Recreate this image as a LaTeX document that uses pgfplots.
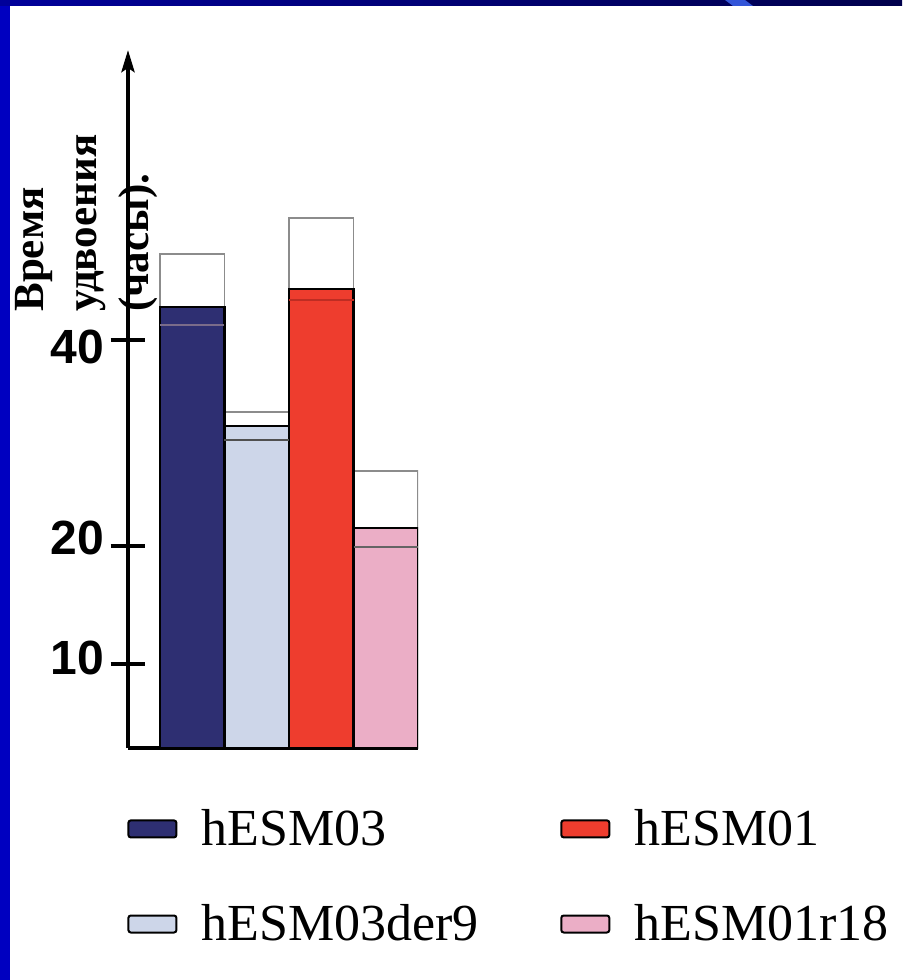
\documentclass[border=0pt]{standalone}
\usepackage{fontspec}
\setmainfont{Liberation Serif}
\newfontfamily\sansfam{Liberation Sans}
\usepackage{pgfplots}
\pgfplotsset{compat=1.18}
\usetikzlibrary{arrows.meta}
\definecolor{frameblue}{HTML}{0000C0}
\definecolor{topA}{HTML}{00009A}
\definecolor{topB}{HTML}{00004C}
\definecolor{stripe}{HTML}{3355D8}
\definecolor{cnavy}{HTML}{2E2F72}
\definecolor{clav}{HTML}{CDD6E9}
\definecolor{cred}{HTML}{EE3D2E}
\definecolor{cpink}{HTML}{EBAEC6}
\definecolor{errgray}{HTML}{8C8C8C}
\definecolor{lnavy}{HTML}{7A6C8A}
\definecolor{llav}{HTML}{505050}
\definecolor{lred}{HTML}{BE2D23}
\definecolor{lpink}{HTML}{646464}
\begin{document}
\begin{tikzpicture}[x=1pt,y=1pt]
\useasboundingbox (0,0) rectangle (451,490);
\fill[white] (0,0) rectangle (451,490);
\fill[frameblue] (0,0) rectangle (5,490);
\shade[left color=topA, right color=topB] (0,487) rectangle (451,490);
\fill[stripe] (362.5,490) -- (372.5,490) -- (376.5,487) -- (366.5,487) -- cycle;
\begin{axis}[
  at={(64pt,116pt)}, anchor=south west,
  scale only axis, width=145pt, height=349pt,
  xmin=-0.996, xmax=3.5, ymin=0, ymax=68.16,
  y coord trafo/.code={\pgfmathparse{8.4*min(#1,10)+11.8*max(0,min(#1,20)-10)+10.3*max(0,#1-20)}},
  y coord inv trafo/.code={\pgfmathparse{min(#1,84)/8.4+max(0,min(#1,202)-84)/11.8+max(0,#1-202)/10.3}},
  axis x line=bottom, axis y line=left,
  x axis line style={-, line width=2pt, black},
  y axis line style={-{Stealth[length=11pt,width=6.5pt,inset=2pt]}, line width=2pt, black},
  xtick=\empty, ytick={10,20,40},
  yticklabels={\raisebox{3.5pt}[17pt][0pt]{10},\raisebox{4.5pt}[17pt][0pt]{20},\raisebox{-3pt}[17pt][0pt]{40}},
  tick align=center, major tick length=17.5pt,
  major tick style={line width=1.8pt, black},
  yticklabel style={font=\sansfam\bfseries\fontsize{24}{24}\selectfont, anchor=east, inner sep=0pt, xshift=-3pt},
  ybar, bar width=1, bar shift=0pt,
  legend columns=2,
  legend image code/.code={\draw[#1,/tikz/.cd, draw=black, line width=1pt, rounded corners=1.2pt] (0pt,-4.25pt) rectangle (24pt,4.25pt);},
  legend style={at={(axis description cs:-0.0034,-0.0845)}, anchor=north west, draw=none, fill=none, inner sep=0pt,
    font=\fontsize{26}{26}\selectfont, row sep=26pt,
    nodes={inner sep=1pt},
    /tikz/every odd column/.append style={column sep=11pt},
    /tikz/every even column/.append style={column sep=39.8pt},
    cells={anchor=west}},
]
% upper error boxes
\addplot[forget plot, fill=white, draw=errgray, line width=0.8pt] coordinates {(0,48.35)};
\addplot[forget plot, fill=white, draw=errgray, line width=0.8pt] coordinates {(1,33.01)};
\addplot[forget plot, fill=white, draw=errgray, line width=0.8pt] coordinates {(2,51.84)};
\addplot[forget plot, fill=white, draw=errgray, line width=0.8pt] coordinates {(3,27.28)};
% bars
\addplot[fill=cnavy, draw=black, line width=1.1pt] coordinates {(0,43.20)};
\addlegendentry{hESM03}
\addplot[fill=cred, draw=black, line width=1.1pt] coordinates {(2,44.95)};
\addlegendentry{hESM01}
\addplot[fill=clav, draw=black, line width=1.1pt] coordinates {(1,31.65)};
\addlegendentry{hESM03der9}
\addplot[fill=cpink, draw=black, line width=1.1pt] coordinates {(3,21.75)};
\addlegendentry{hESM01r18}
% lower error lines
\addplot[forget plot, sharp plot, mark=none, draw=lnavy, line width=1pt] coordinates {(-0.5,41.46) (0.5,41.46)};
\addplot[forget plot, sharp plot, mark=none, draw=llav, line width=0.8pt] coordinates {(0.5,30.29) (1.5,30.29)};
\addplot[forget plot, sharp plot, mark=none, draw=lred, line width=1pt] coordinates {(1.5,43.88) (2.5,43.88)};
\addplot[forget plot, sharp plot, mark=none, draw=lpink, line width=0.8pt] coordinates {(2.5,19.9) (3.5,19.9)};
\end{axis}
\node[rotate=90, anchor=north west, align=left, inner sep=0pt,
  font=\bfseries\fontsize{21.5}{26.3}\selectfont] at (7.5,334) {Время\\удвоения\\(часы).};
\end{tikzpicture}
\end{document}
